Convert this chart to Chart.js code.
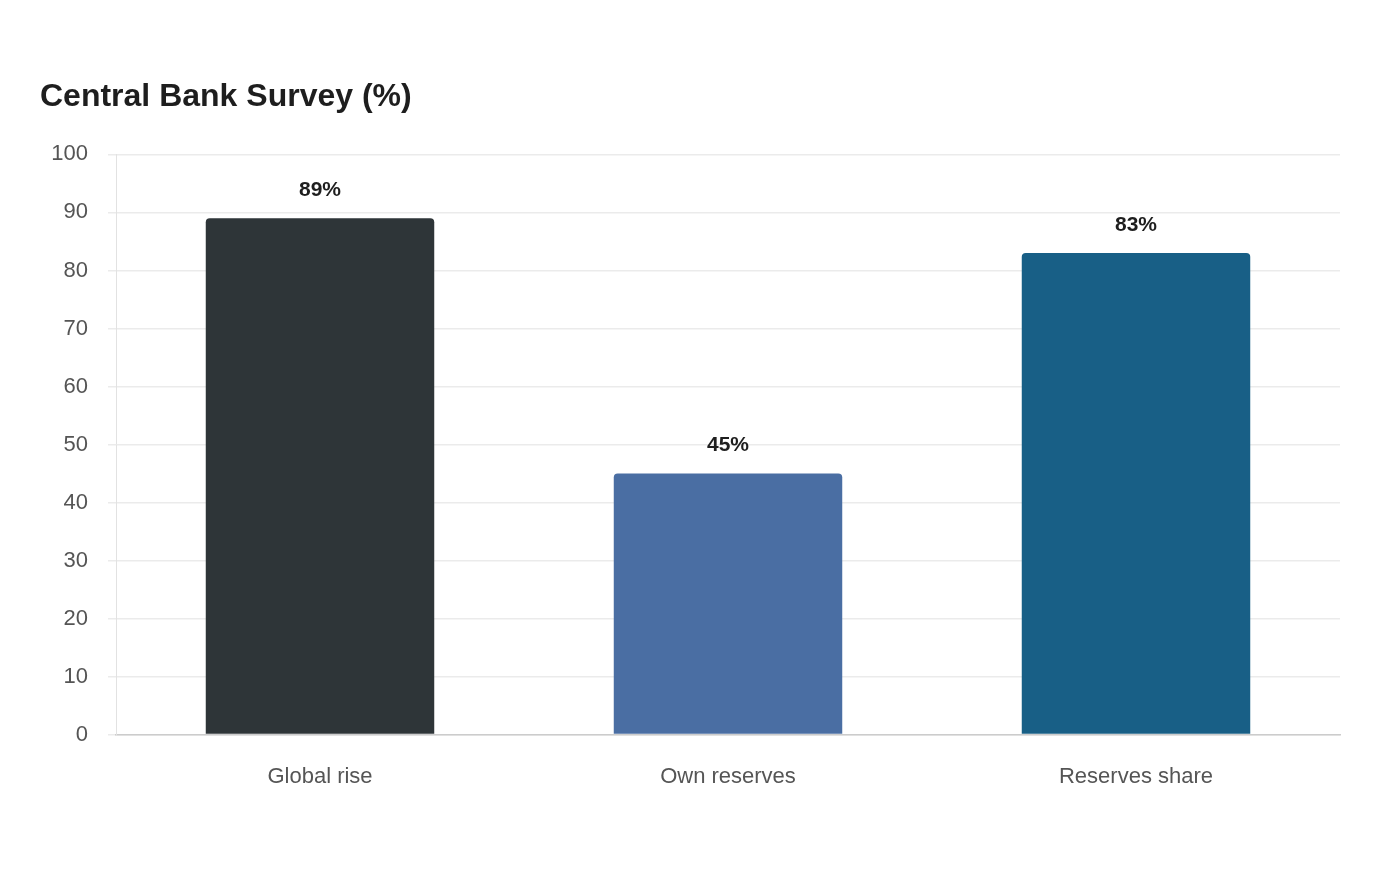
<!DOCTYPE html>
<html>
<head>
<meta charset="utf-8">
<script src="https://cdn.jsdelivr.net/npm/chart.js@4.4.0/dist/chart.umd.min.js"></script>
<style>
  html, body { margin: 0; padding: 0; background: #fff; }
  #wrap { width: 1400px; height: 880px; }
</style>
</head>
<body>
<div id="wrap"><canvas id="chart" width="1400" height="880"></canvas></div>
<script>
// Survey categories and values (percent)
const categories = ['Global rise', 'Own reserves', 'Reserves share'];
const values = [89, 45, 83];
const barColors = ['#2e3538', '#4a6ea3', '#185f86'];

// draws the "89%" labels above each bar
const barLabels = {
    id: 'barLabels',
    afterDatasetsDraw(chart) {
        const ctx = chart.ctx;
        const meta = chart.getDatasetMeta(0);
        ctx.save();
        ctx.font = 'bold 21px "Liberation Sans", Arial, sans-serif';
        ctx.fillStyle = '#1e1e1e';
        ctx.textAlign = 'center';
        ctx.textBaseline = 'middle';
        meta.data.forEach((bar, i) => {
            ctx.fillText(values[i] + '%', bar.x, bar.y - 28);
        });
        ctx.restore();
    }
};

const ctx = document.getElementById('chart');
new Chart(ctx.getContext('2d'), {
    type: 'bar',
    data: {
        labels: categories,
        datasets: [{
            data: values,
            backgroundColor: barColors,
            borderRadius: 4,
            borderSkipped: 'bottom',
            barPercentage: 0.8,
            categoryPercentage: 0.7
        }]
    },
    options: {
        responsive: false,
        animation: false,
        layout: {
            padding: { top: 0, left: 40, right: 60, bottom: 69 }
        },
        plugins: {
            legend: { display: false },
            tooltip: { enabled: false },
            title: {
                display: true,
                text: 'Central Bank Survey (%)',
                align: 'start',
                color: '#1e1e1e',
                font: { family: '"Liberation Sans", Arial, sans-serif', size: 32, weight: 'bold' },
                padding: { top: 78, bottom: 38 }
            }
        },
        scales: {
            x: {
                grid: { display: false },
                border: { color: '#cccccc', width: 1.5 },
                ticks: {
                    color: '#555',
                    padding: 21,
                    font: { family: '"Liberation Sans", Arial, sans-serif', size: 22 }
                }
            },
            y: {
                min: 0,
                max: 100,
                afterFit(scale) { scale.width = 76; },
                grid: { color: '#ebebeb', tickLength: 8, lineWidth: 1.5 },
                border: { color: '#e2e2e2', width: 1 },
                ticks: {
                    stepSize: 10,
                    color: '#555',
                    padding: 20,
                    font: { family: '"Liberation Sans", Arial, sans-serif', size: 22 }
                }
            }
        }
    },
    plugins: [barLabels]
});
</script>
</body>
</html>
